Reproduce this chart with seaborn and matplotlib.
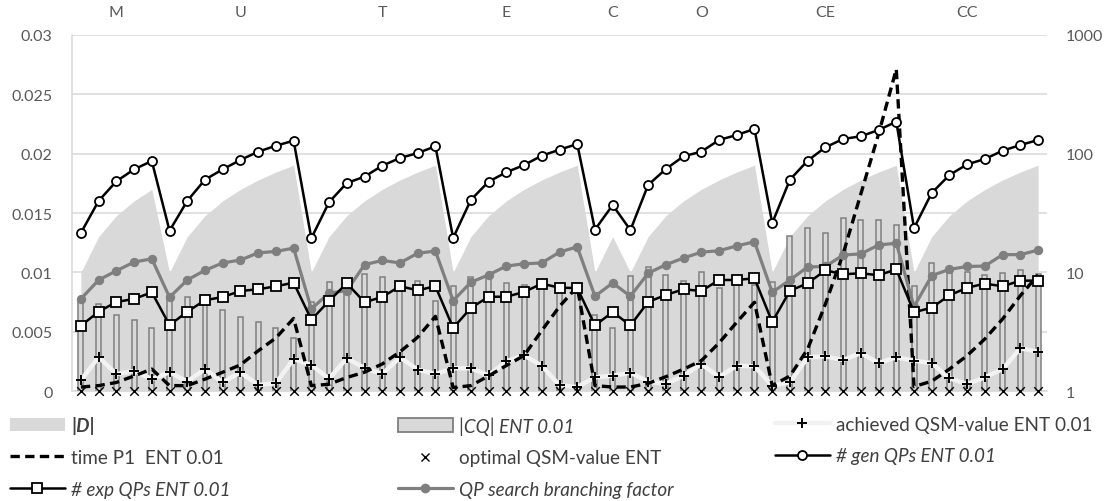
import numpy as np
import matplotlib
matplotlib.use("Agg")
import matplotlib.pyplot as plt
import seaborn as sns
from matplotlib.lines import Line2D
from matplotlib.patches import Patch
from matplotlib.ticker import NullLocator

# %% data
group_labels = ["M", "U", "T", "E", "C", "O", "CE", "CC"]
group_label_pos = [2, 9, 17, 24, 30, 35, 42, 50]

d_size = [10, 20, 30, 40, 50,
          10, 20, 30, 40, 50, 60, 70, 80,
          10, 20, 30, 40, 50, 60, 70, 80,
          10, 20, 30, 40, 50, 60, 70, 80,
          10, 20,
          10, 20, 30, 40, 50, 60, 70, 80,
          10, 20, 30, 40, 50, 60, 70, 80,
          10, 20, 30, 40, 50, 60, 70, 80]

cq_size = [5.66, 5.41, 4.40, 3.99, 3.40,
           6.33, 6.23, 5.74, 4.81, 4.23, 3.83, 3.38, 2.78,
           5.60, 8.25, 8.46, 9.63, 9.20, 7.98, 8.41, 5.78,
           7.63, 9.15, 9.39, 8.09, 7.82, 8.51, 7.72, 8.14,
           4.40, 3.40,
           9.28, 11.1, 9.51, 8.41, 10.0, 7.38, 9.09, 7.82,
           8.35, 20.3, 23.8, 21.3, 28.5, 27.6, 27.4, 25.1,
           7.60, 12.0, 10.3, 10.1, 9.51, 9.95, 10.5, 9.63]

achieved_qsm = [0.00090, 0.00287, 0.00143, 0.00169, 0.00101,
                0.00158, 0.00080, 0.00185, 0.00073, 0.00158, 0.00051, 0.00066, 0.00270,
                0.00219, 0.00104, 0.00276, 0.00194, 0.00143, 0.00284, 0.00180, 0.00143,
                0.00192, 0.00191, 0.00132, 0.00251, 0.00301, 0.00213, 0.00048, 0.00034,
                0.00115, 0.00129,
                0.00154, 0.00080, 0.00059, 0.00129, 0.00228, 0.00118, 0.00213, 0.00208,
                0.00045, 0.00073, 0.00284, 0.00292, 0.00261, 0.00320, 0.00236, 0.00284,
                0.00255, 0.00236, 0.00107, 0.00059, 0.00115, 0.00185, 0.00360, 0.00331]

optimal_qsm = [0.0] * 55

time_p1 = [1.08, 1.11, 1.18, 1.34, 1.53,
           1.11, 1.11, 1.26, 1.44, 1.66, 2.18, 2.80, 4.09,
           1.11, 1.14, 1.30, 1.44, 1.69, 2.14, 2.84, 4.26,
           1.07, 1.11, 1.34, 1.64, 1.99, 3.23, 5.16, 7.57,
           1.11, 1.08,
           1.08, 1.16, 1.32, 1.53, 1.80, 2.54, 3.80, 5.60,
           1.11, 1.34, 2.26, 5.41, 14.3, 45.8, 146.5, 516,
           1.09, 1.21, 1.53, 1.99, 2.75, 4.05, 6.36, 9.51]

gen_qps = [21.5, 40.0, 58.5, 73.8, 86.7,
           22.4, 40.0, 60.4, 73.8, 88.5, 103.9, 116.7, 128.6,
           19.4, 39.0, 56.6, 64.0, 79.2, 91.9, 101.3, 115.3,
           19.5, 40.8, 58.1, 69.7, 80.2, 96.1, 108.0, 120.6,
           22.9, 36.9,
           22.7, 54.5, 74.2, 95.1, 103.9, 130.4, 143.7, 161.5,
           26.0, 60.4, 87.3, 113.1, 133.0, 140.1, 158.3, 185.9,
           23.6, 46.7, 66.1, 81.3, 90.2, 105.9, 118.3, 130.4]

exp_qps = [3.55, 4.66, 5.63, 5.97, 6.79,
           3.59, 4.66, 5.82, 6.20, 6.96, 7.20, 7.63, 8.18,
           3.99, 5.74, 8.09, 5.60, 6.20, 7.63, 7.06, 7.63,
           3.40, 5.01, 6.23, 6.23, 6.83, 8.03, 7.42, 7.38,
           3.57, 4.63,
           3.57, 5.63, 6.45, 7.20, 6.96, 8.62, 8.62, 8.91,
           3.81, 7.00, 8.09, 10.4, 9.63, 9.82, 9.45, 10.6,
           4.61, 5.04, 6.41, 7.42, 8.03, 7.63, 8.51, 8.51]

branching = [5.97, 8.62, 10.3, 12.2, 13.0,
             6.16, 8.62, 10.4, 12.0, 12.7, 14.6, 15.0, 16.0,
             4.92, 6.70, 7.00, 11.6, 12.6, 12.0, 14.5, 15.1,
             5.77, 8.25, 9.51, 11.3, 11.8, 12.0, 14.8, 16.4,
             6.29, 8.14,
             6.29, 9.83, 11.6, 13.2, 14.8, 15.2, 16.7, 18.1,
             6.79, 8.62, 11.1, 11.2, 14.0, 14.3, 17.0, 17.6,
             5.14, 9.38, 10.6, 11.2, 11.3, 14.1, 14.1, 15.4]

left_ticks = [0, 0.005, 0.01, 0.015, 0.02, 0.025, 0.03]
left_tick_labels = ["0", "0.005", "0.01", "0.015", "0.02", "0.025", "0.03"]
right_ticks = [1, 10, 100, 1000]
right_tick_labels = ["1", "10", "100", "1000"]

x = np.arange(len(d_size))

# %% style
sns.set_style("white")
plt.rcParams['font.family'] = ['Lato', 'DejaVu Sans']
tick_col = '#595959'
light = '#d9d9d9'
mid = '#7f7f7f'

fig, ax = plt.subplots(figsize=(11.17, 5.02), dpi=100)
fig.subplots_adjust(left=0.0645, right=0.9373, top=0.9283, bottom=0.2191)
ax2 = ax.twinx()
ax2.set_yscale('log')

# %% right (log) axis series, left axis series drawn through ax.transData
ax2.fill_between(x, 1, d_size, color=light, lw=0, zorder=1)
ax2.bar(x, cq_size, width=0.28, color=light, edgecolor=mid, lw=1.1, zorder=2)

sns.lineplot(x=x, y=achieved_qsm, ax=ax2, transform=ax.transData, color='#f2f2f2',
             lw=3.2, marker='+', ms=7, mec='black', mew=1.4, zorder=3, legend=False)
sns.scatterplot(x=x, y=optimal_qsm, ax=ax2, transform=ax.transData, marker='x',
                s=38, color='black', linewidth=1.0, zorder=8, clip_on=False, legend=False)

sns.lineplot(x=x, y=time_p1, ax=ax2, color='black', lw=2.4, zorder=4, legend=False)
ax2.get_lines()[-1].set_dashes((2.8, 1.6))

sns.lineplot(x=x, y=branching, ax=ax2, color=mid, lw=2.3, marker='o', ms=6,
             mfc=mid, mec=mid, zorder=5, legend=False)
sns.lineplot(x=x, y=exp_qps, ax=ax2, color='black', lw=1.8, marker='s', ms=6.5,
             mfc='white', mec='black', mew=1.3, zorder=6, legend=False)
sns.lineplot(x=x, y=gen_qps, ax=ax2, color='black', lw=1.8, marker='o', ms=6.5,
             mfc='white', mec='black', mew=1.3, zorder=7, legend=False)

# %% axes
ax.set_xlim(-0.5, 54.5)
ax.set_ylim(0, 0.03)
ax2.set_ylim(1, 1000)
ax.set_xticks([])
ax.set_yticks(left_ticks)
ax.set_yticklabels(left_tick_labels)
ax2.set_yticks(right_ticks)
ax2.set_yticklabels(right_tick_labels)
ax2.yaxis.set_minor_locator(NullLocator())
ax.yaxis.grid(True, color=light, lw=1.1)
ax.tick_params(axis='y', length=0, pad=14, labelsize=11.5, labelcolor=tick_col)
ax2.tick_params(axis='y', length=0, pad=13.5, labelsize=11.5, labelcolor=tick_col)
for s in ['top', 'right']:
    ax.spines[s].set_visible(False)
for s in ['left', 'bottom']:
    ax.spines[s].set_color(light)
    ax.spines[s].set_linewidth(1.1)
for s in ax2.spines.values():
    s.set_visible(False)
ax.set_xlabel('')
ax2.set_xlabel('')
ax2.set_ylabel('')

top = ax.secondary_xaxis('top')
top.set_xticks(group_label_pos, labels=group_labels)
top.tick_params(length=0, pad=11.5, labelsize=11.5, labelcolor=tick_col)
top.spines['top'].set_visible(False)

# %% legend
h_d = Patch(facecolor=light, edgecolor='none')
h_cq = Patch(facecolor=light, edgecolor=mid, lw=1.3)
h_ach = Line2D([], [], color='#f2f2f2', lw=3.2, marker='+', ms=7, mec='black', mew=1.4)
h_time = Line2D([], [], color='black', lw=2.4, dashes=(2.8, 1.6))
h_opt = Line2D([], [], ls='', marker='x', ms=6, color='black', mew=1.0)
h_gen = Line2D([], [], color='black', lw=1.8, marker='o', ms=6.5, mfc='white', mec='black', mew=1.3)
h_exp = Line2D([], [], color='black', lw=1.8, marker='s', ms=6.5, mfc='white', mec='black', mew=1.3)
h_br = Line2D([], [], color=mid, lw=2.3, marker='o', ms=6, mfc=mid, mec=mid)

cols = [
    ([h_d, h_time, h_exp], ['|D|', 'time P1  ENT 0.01', '# exp QPs ENT 0.01'], 10, 0.0876),
    ([h_cq, h_opt, h_br], ['|CQ| ENT 0.01', 'optimal QSM-value ENT', 'QP search branching factor'], 398, 0.0876),
    ([h_ach, h_gen], ['achieved QSM-value ENT 0.01', '# gen QPs ENT 0.01'], 775, 0.1215),
]
italic = {'|CQ| ENT 0.01', '# exp QPs ENT 0.01', '# gen QPs ENT 0.01', 'QP search branching factor'}
for hs, ls, xp, yp in cols:
    leg = fig.legend(hs, ls, loc='center left', bbox_to_anchor=(xp / 1117, yp),
                     frameon=False, fontsize=13.6, handlelength=2.9, handletextpad=0.33,
                     labelspacing=0.78, borderpad=0, borderaxespad=0)
    for t in leg.get_texts():
        t.set_color('#404040')
        if t.get_text() in italic:
            t.set_style('italic')
        if t.get_text() == '|D|':
            t.set_style('italic')
            t.set_weight('bold')

fig.savefig('out.png', dpi=100)
